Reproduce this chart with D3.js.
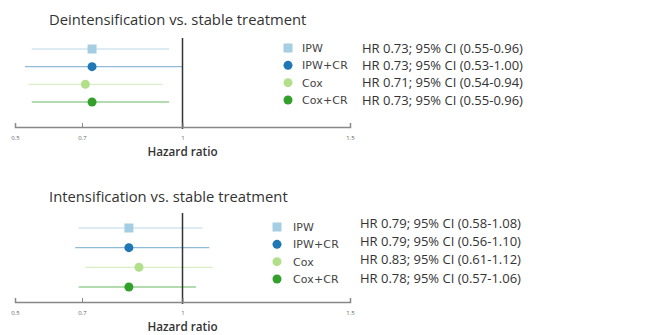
<!DOCTYPE html>
<html>
<head>
<meta charset="utf-8">
<script src="https://cdn.jsdelivr.net/npm/d3@7"></script>
<style>
  body { margin: 0; background: #fff; }
  svg { display: block; font-family: "Open Sans", "Noto Sans", sans-serif; }
</style>
</head>
<body>
<div id="chart"></div>
<script>
// Methods and colours (shared by both panels)
const methods = ['IPW', 'IPW+CR', 'Cox', 'Cox+CR'];
const colors = ['#a6cee3', '#1f78b4', '#b2df8a', '#33a02c'];
const shapes = ['square', 'circle', 'circle', 'circle'];

// Deintensification vs. stable treatment
const deintHR = [0.73, 0.73, 0.71, 0.73];
const deintLo = [0.55, 0.53, 0.54, 0.55];
const deintHi = [0.96, 1.00, 0.94, 0.96];
const deintText = [
    'HR 0.73; 95% CI (0.55-0.96)',
    'HR 0.73; 95% CI (0.53-1.00)',
    'HR 0.71; 95% CI (0.54-0.94)',
    'HR 0.73; 95% CI (0.55-0.96)'
];

// Intensification vs. stable treatment (positions as drawn in the figure)
const intHR = [0.84, 0.84, 0.87, 0.84];
const intLo = [0.69, 0.68, 0.71, 0.69];
const intHi = [1.06, 1.08, 1.09, 1.04];
const intText = [
    'HR 0.79; 95% CI (0.58-1.08)',
    'HR 0.79; 95% CI (0.56-1.10)',
    'HR 0.83; 95% CI (0.61-1.12)',
    'HR 0.78; 95% CI (0.57-1.06)'
];

const tickValues = [0.5, 0.7, 1, 1.5];

const width = 658, height = 335;
const svg = d3.select('#chart').append('svg')
    .attr('width', width)
    .attr('height', height);

const x = d3.scaleLinear().domain([0.5, 1.5]).range([15, 350]);

function panel(cfg) {
    const g = svg.append('g');
    const rows = methods.map((m, i) => ({
        name: m, color: colors[i], shape: shapes[i],
        hr: cfg.hr[i], lo: cfg.lo[i], hi: cfg.hi[i], text: cfg.text[i]
    }));

    const y = d3.scalePoint().domain(methods).range(cfg.rowRange);
    const yLeg = d3.scalePoint().domain(methods).range(cfg.legRange);
    const yTxt = d3.scalePoint().domain(methods).range(cfg.txtRange);

    // title
    g.append('text')
        .attr('x', 49)
        .attr('y', cfg.titleY)
        .attr('fill', '#333')
        .style('font-size', '14.8px')
        .text(cfg.title);

    // confidence intervals
    g.selectAll('line.ci')
        .data(rows)
        .enter()
        .append('line')
        .attr('class', 'ci')
        .attr('x1', d => x(d.lo))
        .attr('x2', d => x(d.hi))
        .attr('y1', d => y(d.name))
        .attr('y2', d => y(d.name))
        .attr('stroke', d => d.color)
        .attr('stroke-opacity', 0.5)
        .attr('stroke-width', 1.3);

    // reference line at HR = 1
    g.append('line')
        .attr('x1', x(1)).attr('x2', x(1))
        .attr('y1', cfg.refTop).attr('y2', cfg.axisY + 2)
        .attr('stroke', '#333')
        .attr('stroke-width', 1.5);

    // axis
    const axis = d3.axisBottom(x)
        .tickValues(tickValues)
        .tickSize(-4)
        .tickPadding(9)
        .tickFormat(d3.format('~g'));
    const ax = g.append('g')
        .attr('transform', `translate(0,${cfg.axisY})`)
        .call(axis);
    ax.select('.domain').attr('stroke', '#888').attr('stroke-width', 1.5);
    ax.selectAll('.tick line').attr('stroke', '#888').attr('stroke-width', 1);
    ax.selectAll('.tick text')
        .attr('fill', '#666')
        .style('font-size', '6px')
        .style('font-family', '"Open Sans", sans-serif');

    g.append('text')
        .attr('x', x(1))
        .attr('y', cfg.axisY + 29)
        .attr('text-anchor', 'middle')
        .attr('fill', '#333')
        .style('font-size', '11.7px')
        .style('font-weight', 600)
        .text('Hazard ratio');

    // point estimates
    const marks = g.selectAll('g.mark')
        .data(rows)
        .enter()
        .append('g')
        .attr('class', 'mark')
        .attr('transform', d => `translate(${x(d.hr)},${y(d.name)})`);
    drawSymbol(marks);

    // legend
    const leg = g.selectAll('g.leg')
        .data(rows)
        .enter()
        .append('g')
        .attr('class', 'leg')
        .attr('transform', d => `translate(${cfg.legX},${yLeg(d.name)})`);
    drawSymbol(leg);
    leg.append('text')
        .attr('x', cfg.labelX - cfg.legX)
        .attr('dy', '0.35em')
        .attr('fill', '#444')
        .style('font-size', '11px')
        .style('letter-spacing', '0.1px')
        .style('font-family', '"DejaVu Sans", Verdana, sans-serif')
        .text(d => d.name);

    g.selectAll('text.hr')
        .data(rows)
        .enter()
        .append('text')
        .attr('class', 'hr')
        .attr('x', cfg.hrX)
        .attr('y', d => yTxt(d.name))
        .attr('dy', '0.35em')
        .attr('fill', '#333')
        .style('font-size', '13px')
        .text(d => d.text);
}

function drawSymbol(sel) {
    sel.filter(d => d.shape === 'square')
        .append('rect')
        .attr('x', -4.5).attr('y', -4.5)
        .attr('width', 9).attr('height', 9)
        .attr('fill', d => d.color);
    sel.filter(d => d.shape === 'circle')
        .append('circle')
        .attr('r', 4.5)
        .attr('fill', d => d.color);
}

panel({
    title: 'Deintensification vs. stable treatment',
    titleY: 25,
    hr: deintHR, lo: deintLo, hi: deintHi, text: deintText,
    rowRange: [49, 102],
    legRange: [48, 100],
    txtRange: [48, 100],
    refTop: 38,
    axisY: 127,
    legX: 288, labelX: 302, hrX: 362
});

panel({
    title: 'Intensification vs. stable treatment',
    titleY: 202,
    hr: intHR, lo: intLo, hi: intHi, text: intText,
    rowRange: [228, 287],
    legRange: [227, 279],
    txtRange: [223, 278],
    refTop: 213,
    axisY: 302,
    legX: 277, labelX: 293, hrX: 360
});
</script>
</body>
</html>
